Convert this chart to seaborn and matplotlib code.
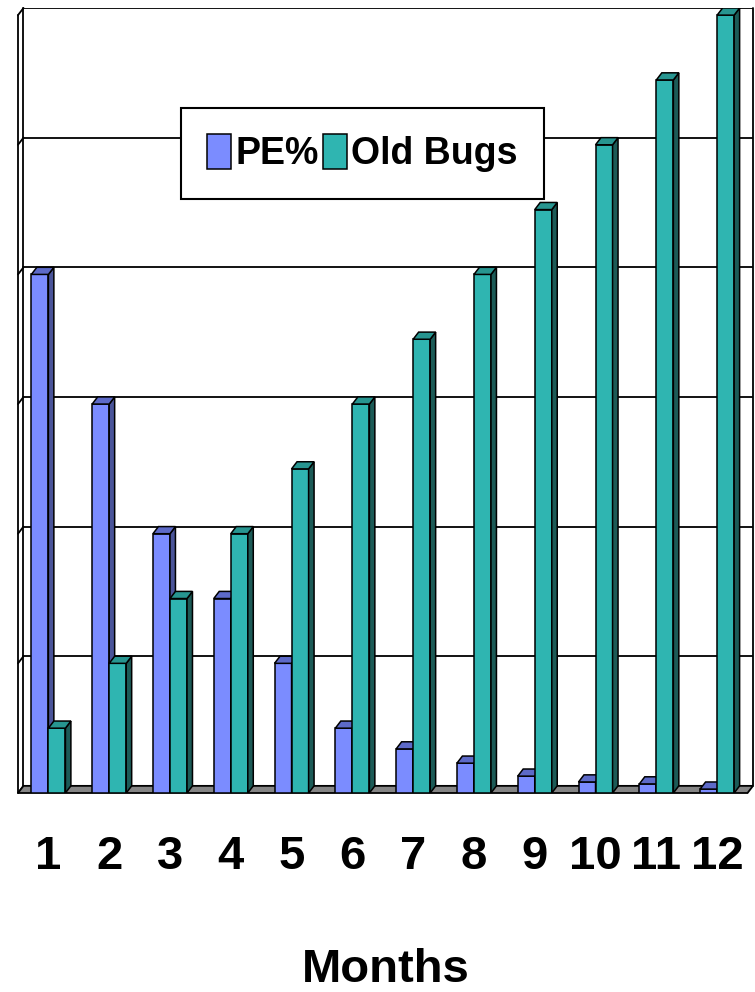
import numpy as np
import pandas as pd
import seaborn as sns
import matplotlib
matplotlib.use("Agg")
import matplotlib.pyplot as plt
from matplotlib.patches import Polygon

# ------------------------------------------------------------------------------
# Data (1 gridline = 1 unit)
# ------------------------------------------------------------------------------
months = ["1", "2", "3", "4", "5", "6", "7", "8", "9", "10", "11", "12"]
pe_pct = [4.0, 3.0, 2.0, 1.5, 1.0, 0.5, 0.34, 0.23, 0.13, 0.085, 0.07, 0.03]
old_bugs = [0.5, 1.0, 1.5, 2.0, 2.5, 3.0, 3.5, 4.0, 4.5, 5.0, 5.5, 6.0]
series = ["PE%", "Old Bugs"]

front_cols = ["#7b8cff", "#2fb5b1"]
side_cols = ["#4a5499", "#1c5b57"]
top_cols = ["#5d6ac8", "#279590"]

df = pd.DataFrame({
    "month": months * 2,
    "value": pe_pct + old_bugs,
    "series": [series[0]] * len(months) + [series[1]] * len(months),
})

sns.set_style("white")
plt.rcParams["font.family"] = ["Liberation Sans", "DejaVu Sans"]
plt.rcParams["text.color"] = "black"
plt.rcParams["xtick.color"] = "black"
plt.rcParams["axes.labelcolor"] = "black"

W, H = 755, 992
fig = plt.figure(figsize=(W / 100, H / 100), dpi=100)
ax = fig.add_axes([18 / W, 1 - 793 / H, (753 - 18) / W, (793 - 8) / H])

sns.barplot(data=df, x="month", y="value", hue="series", order=months,
            hue_order=series, palette=front_cols, width=0.56, errorbar=None,
            edgecolor="black", linewidth=1.1, saturation=1, ax=ax, zorder=2)

# depth of the fake 3D look, in data units
dx, dy = 0.09, 0.055
n = len(months)
ymax = 6
lw = 1.3

# back wall gridlines + border
for k in range(1, ymax + 1):
    ax.plot([-0.5 + dx, n - 0.5 + dx], [k + dy, k + dy], color="black", lw=lw, zorder=0.5)
ax.plot([n - 0.5 + dx, n - 0.5 + dx], [dy, ymax + dy], color="black", lw=lw, zorder=0.5, clip_on=False)

# left wall
ax.plot([-0.5, -0.5], [0, ymax], color="black", lw=lw, zorder=0.6, clip_on=False)
ax.plot([-0.5 + dx, -0.5 + dx], [dy, ymax + dy], color="black", lw=lw, zorder=0.6, clip_on=False)
for k in range(0, ymax + 1):
    ax.plot([-0.5, -0.5 + dx], [k, k + dy], color="black", lw=lw, zorder=0.6, clip_on=False)

# floor
floor = Polygon([(-0.5, 0), (n - 0.5, 0), (n - 0.5 + dx, dy), (-0.5 + dx, dy)],
                closed=True, facecolor="#858585", edgecolor="black", lw=lw, zorder=1, clip_on=False)
ax.add_patch(floor)

# side and top faces of each bar
for i, cont in enumerate(ax.containers):
    for bar in cont:
        bar.set_zorder(2 + i)
        x0, w, h = bar.get_x(), bar.get_width(), bar.get_height()
        side = Polygon([(x0 + w, 0), (x0 + w + dx, dy), (x0 + w + dx, h + dy), (x0 + w, h)],
                       closed=True, facecolor=side_cols[i], edgecolor="black", lw=1.1, zorder=2.5 + i)
        top = Polygon([(x0, h), (x0 + dx, h + dy), (x0 + w + dx, h + dy), (x0 + w, h)],
                      closed=True, facecolor=top_cols[i], edgecolor="black", lw=1.1, zorder=2.5 + i)
        ax.add_patch(side)
        ax.add_patch(top)

ax.set_xlim(-0.5, n - 0.5 + dx)
ax.set_ylim(0, ymax + dy)
ax.set_yticks([])
ax.set_ylabel("")
for s in ax.spines.values():
    s.set_visible(False)

ax.set_xticks(np.arange(-0.5, n, 1), minor=True)
ax.tick_params(axis="x", which="minor", length=10, width=1.5, color="black", direction="out")
ax.tick_params(axis="x", which="major", length=0, pad=30, labelsize=34)
for t in ax.get_xticklabels():
    t.set_fontweight("bold")
ax.set_xlabel("Months", fontsize=34, fontweight="bold")
ax.xaxis.label.set_va("center")
ax.xaxis.set_label_coords(0.5, (793 - 970) / 785)

handles, labels = ax.get_legend_handles_labels()
leg = ax.legend(handles, labels, ncol=2, loc="upper left",
                bbox_to_anchor=(181 / W, 1 - 108 / H), bbox_transform=fig.transFigure,
                prop={"weight": "bold", "size": 27}, frameon=True, fancybox=False,
                edgecolor="black", framealpha=1, handlelength=0.64, handleheight=1.05,
                handletextpad=0.12, columnspacing=0.1, borderpad=0.7, borderaxespad=0)
leg.get_frame().set_linewidth(1.5)
leg.set_zorder(10)

fig.savefig("out.png", dpi=100)
